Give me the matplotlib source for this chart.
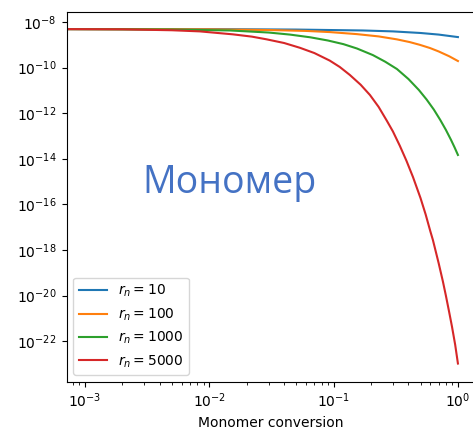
import matplotlib
matplotlib.use("Agg")
import matplotlib.pyplot as plt
import numpy as np

# monomer conversion (x) and log10 of monomer value (y)
conv_rn10 = [7e-4, 0.01, 0.05, 0.172, 0.3, 0.5, 0.7, 0.85, 1.0]
logy_rn10 = [-8.31, -8.31, -8.33, -8.37, -8.41, -8.48, -8.55, -8.61, -8.66]

conv_rn100 = [7e-4, 0.01, 0.03, 0.06, 0.093, 0.154, 0.23, 0.323, 0.41,
              0.494, 0.596, 0.7, 0.85, 1.0]
logy_rn100 = [-8.31, -8.32, -8.35, -8.39, -8.44, -8.53, -8.63, -8.76, -8.88,
              -9.00, -9.14, -9.29, -9.50, -9.71]

conv_rn1000 = [7e-4, 0.005, 0.0147, 0.03, 0.0445, 0.065, 0.09, 0.12, 0.154,
               0.207, 0.26, 0.323, 0.4, 0.485, 0.56, 0.64, 0.72, 0.8, 0.88,
               0.94, 1.0]
logy_rn1000 = [-8.31, -8.33, -8.37, -8.46, -8.55, -8.67, -8.81, -8.97, -9.16,
               -9.45, -9.74, -10.06, -10.50, -10.98, -11.40, -11.84, -12.29,
               -12.73, -13.17, -13.50, -13.83]

conv_rn5000 = [7e-4, 0.002, 0.005, 0.0084, 0.0155, 0.022, 0.029, 0.04,
               0.0536, 0.07, 0.093, 0.112, 0.135, 0.165, 0.196, 0.23, 0.268,
               0.30, 0.341, 0.385, 0.435, 0.5, 0.55, 0.6, 0.629, 0.7, 0.757,
               0.8, 0.85, 0.895, 0.95, 1.0]
logy_rn5000 = [-8.31, -8.32, -8.36, -8.41, -8.54, -8.64, -8.76, -8.92,
               -9.13, -9.36, -9.69, -9.97, -10.32, -10.75, -11.20, -11.72,
               -12.33, -12.80, -13.43, -14.08, -14.80, -15.72, -16.44, -17.18,
               -17.56, -18.58, -19.38, -20.00, -20.72, -21.35, -22.15, -22.98]

labels = [r"$r_n = 10$", r"$r_n = 100$", r"$r_n = 1000$", r"$r_n = 5000$"]
colors = ["#1f77b4", "#ff7f0e", "#2ca02c", "#d62728"]

fig = plt.figure(figsize=(4.73, 4.32), dpi=100)
ax = fig.add_axes([0.1406, 0.1157, 0.8643, 0.8565])

series = [(conv_rn10, logy_rn10), (conv_rn100, logy_rn100),
          (conv_rn1000, logy_rn1000), (conv_rn5000, logy_rn5000)]
for (xs, ly), lab, col in zip(series, labels, colors):
    ax.plot(np.array(xs), 10.0 ** np.array(ly), color=col, lw=1.5, label=lab)

ax.set_xscale("log")
ax.set_yscale("log")
ax.set_xlim(7.1e-4, 1.38)
ax.set_ylim(10 ** -23.79, 10 ** -7.56)
ax.set_xlabel("Monomer conversion")
ax.legend(loc="lower left")

fig.text(0.486, 0.553, "Мономер", ha="center", va="baseline",
         fontsize=27, color="#4472C4", family=["Open Sans", "DejaVu Sans"])

fig.savefig("out.png", dpi=100)
